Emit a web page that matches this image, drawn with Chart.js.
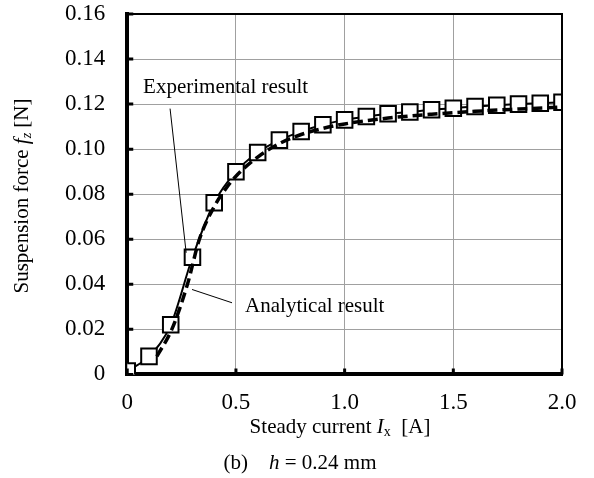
<!DOCTYPE html>
<html>
<head>
<meta charset="utf-8">
<script src="https://cdn.jsdelivr.net/npm/chart.js@4.4.1/dist/chart.umd.min.js"></script>
<style>
  html, body { margin: 0; padding: 0; background: #fff; }
  #wrap { width: 594px; height: 478px; position: relative; }
</style>
</head>
<body>
<div id="wrap"><canvas id="forceChart"></canvas></div>
<script>
// measured points (squares)
const expCurrent = [0, 0.1, 0.2, 0.3, 0.4, 0.5, 0.6, 0.7, 0.8, 0.9, 1.0, 1.1, 1.2, 1.3, 1.4, 1.5, 1.6, 1.7, 1.8, 1.9, 2.0];
const expForce = [0.0015, 0.008, 0.022, 0.052, 0.0762, 0.090, 0.0985, 0.104, 0.1078, 0.1108, 0.113, 0.1145, 0.1157, 0.1165, 0.1175, 0.1182, 0.1189, 0.1195, 0.1200, 0.1204, 0.1208];

// analytical curve (dashed)
const anaCurrent = [0.136, 0.205, 0.277, 0.332, 0.40, 0.45, 0.5, 0.6, 0.7, 0.8, 0.9, 1.0, 1.2, 1.4, 1.6, 1.8, 2.0];
const anaForce = [0.008, 0.02, 0.04, 0.06, 0.0745, 0.082, 0.0880, 0.0965, 0.1025, 0.1065, 0.1092, 0.1112, 0.1138, 0.1155, 0.1168, 0.1178, 0.1187];

const xTicks = [0, 0.5, 1.0, 1.5, 2.0];
const xTickLabels = ['0', '0.5', '1.0', '1.5', '2.0'];
const yTickLabels = ['0', '0.02', '0.04', '0.06', '0.08', '0.10', '0.12', '0.14', '0.16'];

const SERIF = '"Liberation Serif", "Times New Roman", serif';

function toPoints(xs, ys) {
    return xs.map((x, i) => ({ x: x, y: ys[i] }));
}

// draw a line of text made of pieces (italic / subscript)
function richText(ctx, parts, x, y, align) {
    let total = 0;
    parts.forEach(p => {
        ctx.font = (p.italic ? 'italic ' : '') + (p.sub ? 14 : 21) + 'px ' + SERIF;
        p.w = ctx.measureText(p.t).width;
        total += p.w;
    });
    let cx = align === 'center' ? x - total / 2 : x;
    parts.forEach(p => {
        ctx.font = (p.italic ? 'italic ' : '') + (p.sub ? 14 : 21) + 'px ' + SERIF;
        ctx.fillText(p.t, cx, y + (p.sub ? 5 : 0));
        cx += p.w;
    });
}

const decorPlugin = {
    id: 'decor',
    afterDatasetsDraw(chart) {
        const ctx = chart.ctx;
        const xs = chart.scales.x, ys = chart.scales.y;
        const a = chart.chartArea;
        ctx.save();
        ctx.strokeStyle = '#000';
        ctx.fillStyle = '#000';

        // top and right frame
        ctx.lineWidth = 2;
        ctx.beginPath();
        ctx.moveTo(a.left, a.top);
        ctx.lineTo(a.right, a.top);
        ctx.lineTo(a.right, a.bottom);
        ctx.stroke();

        // inward tick marks
        ctx.lineWidth = 3;
        ctx.beginPath();
        ys.ticks.forEach(t => {
            const py = ys.getPixelForValue(t.value);
            ctx.moveTo(a.left, py);
            ctx.lineTo(a.left + 6, py);
        });
        xs.ticks.forEach(t => {
            const px = xs.getPixelForValue(t.value);
            ctx.moveTo(px, a.bottom);
            ctx.lineTo(px, a.bottom - 6);
        });
        ctx.stroke();

        // annotation leaders
        ctx.lineWidth = 1;
        ctx.beginPath();
        ctx.moveTo(xs.getPixelForValue(0.197), ys.getPixelForValue(0.118));
        ctx.lineTo(xs.getPixelForValue(0.271), ys.getPixelForValue(0.054));
        ctx.moveTo(xs.getPixelForValue(0.298), ys.getPixelForValue(0.0377));
        ctx.lineTo(xs.getPixelForValue(0.482), ys.getPixelForValue(0.0318));
        ctx.stroke();

        ctx.textBaseline = 'middle';
        ctx.textAlign = 'left';
        ctx.font = '21px ' + SERIF;
        ctx.fillText('Experimental result', xs.getPixelForValue(0.073), ys.getPixelForValue(0.1272));
        ctx.fillText('Analytical result', xs.getPixelForValue(0.542), ys.getPixelForValue(0.030));

        // axis titles and caption
        richText(ctx, [
            { t: 'Steady current ' },
            { t: 'I', italic: true },
            { t: 'x', sub: true },
            { t: '  [A]' }
        ], 340, 427, 'center');

        richText(ctx, [
            { t: '(b)    ' },
            { t: 'h', italic: true },
            { t: ' = 0.24 mm' }
        ], 300, 463, 'center');

        ctx.translate(22, 196);
        ctx.rotate(-Math.PI / 2);
        richText(ctx, [
            { t: 'Suspension force ' },
            { t: 'f', italic: true },
            { t: 'z', italic: true, sub: true },
            { t: ' [N]' }
        ], 0, 0, 'center');
        ctx.restore();
    }
};

const chart = new Chart(document.getElementById('forceChart'), {
    type: 'scatter',
    data: {
        datasets: [{
            label: 'Analytical result',
            data: toPoints(anaCurrent, anaForce),
            showLine: true,
            borderColor: '#000',
            borderWidth: 3.5,
            borderDash: [10, 5],
            cubicInterpolationMode: 'monotone',
            pointRadius: 0
        }, {
            label: 'Experimental result',
            data: toPoints(expCurrent, expForce),
            showLine: true,
            borderColor: '#000',
            borderWidth: 2,
            cubicInterpolationMode: 'monotone',
            pointStyle: 'rect',
            pointRadius: 11,
            pointBorderWidth: 2,
            pointBackgroundColor: '#fff',
            pointBorderColor: '#000'
        }]
    },
    options: {
        responsive: true,
        maintainAspectRatio: false,
        animation: false,
        layout: { padding: { left: 43, right: 32, top: 14, bottom: 46 } },
        plugins: {
            legend: { display: false },
            tooltip: { enabled: false }
        },
        scales: {
            x: {
                type: 'linear',
                min: 0,
                max: 2.0,
                afterBuildTicks: (scale) => { scale.ticks = xTicks.map(v => ({ value: v })); },
                afterFit: (scale) => { scale.paddingRight = 0; },
                grid: { color: '#a0a0a0', lineWidth: 1, drawTicks: false },
                border: { color: '#000', width: 4 },
                ticks: {
                    color: '#000',
                    padding: 15,
                    maxRotation: 0,
                    font: { family: SERIF, size: 23 },
                    callback: (v) => xTickLabels[xTicks.indexOf(v)]
                }
            },
            y: {
                type: 'linear',
                min: 0,
                max: 0.16,
                afterFit: (scale) => { scale.paddingTop = 0; },
                grid: { color: '#a0a0a0', lineWidth: 1, drawTicks: false },
                border: { color: '#000', width: 4 },
                ticks: {
                    color: '#000',
                    padding: 22,
                    stepSize: 0.02,
                    font: { family: SERIF, size: 23 },
                    callback: (v, i) => yTickLabels[i]
                }
            }
        }
    },
    plugins: [decorPlugin]
});
</script>
</body>
</html>
